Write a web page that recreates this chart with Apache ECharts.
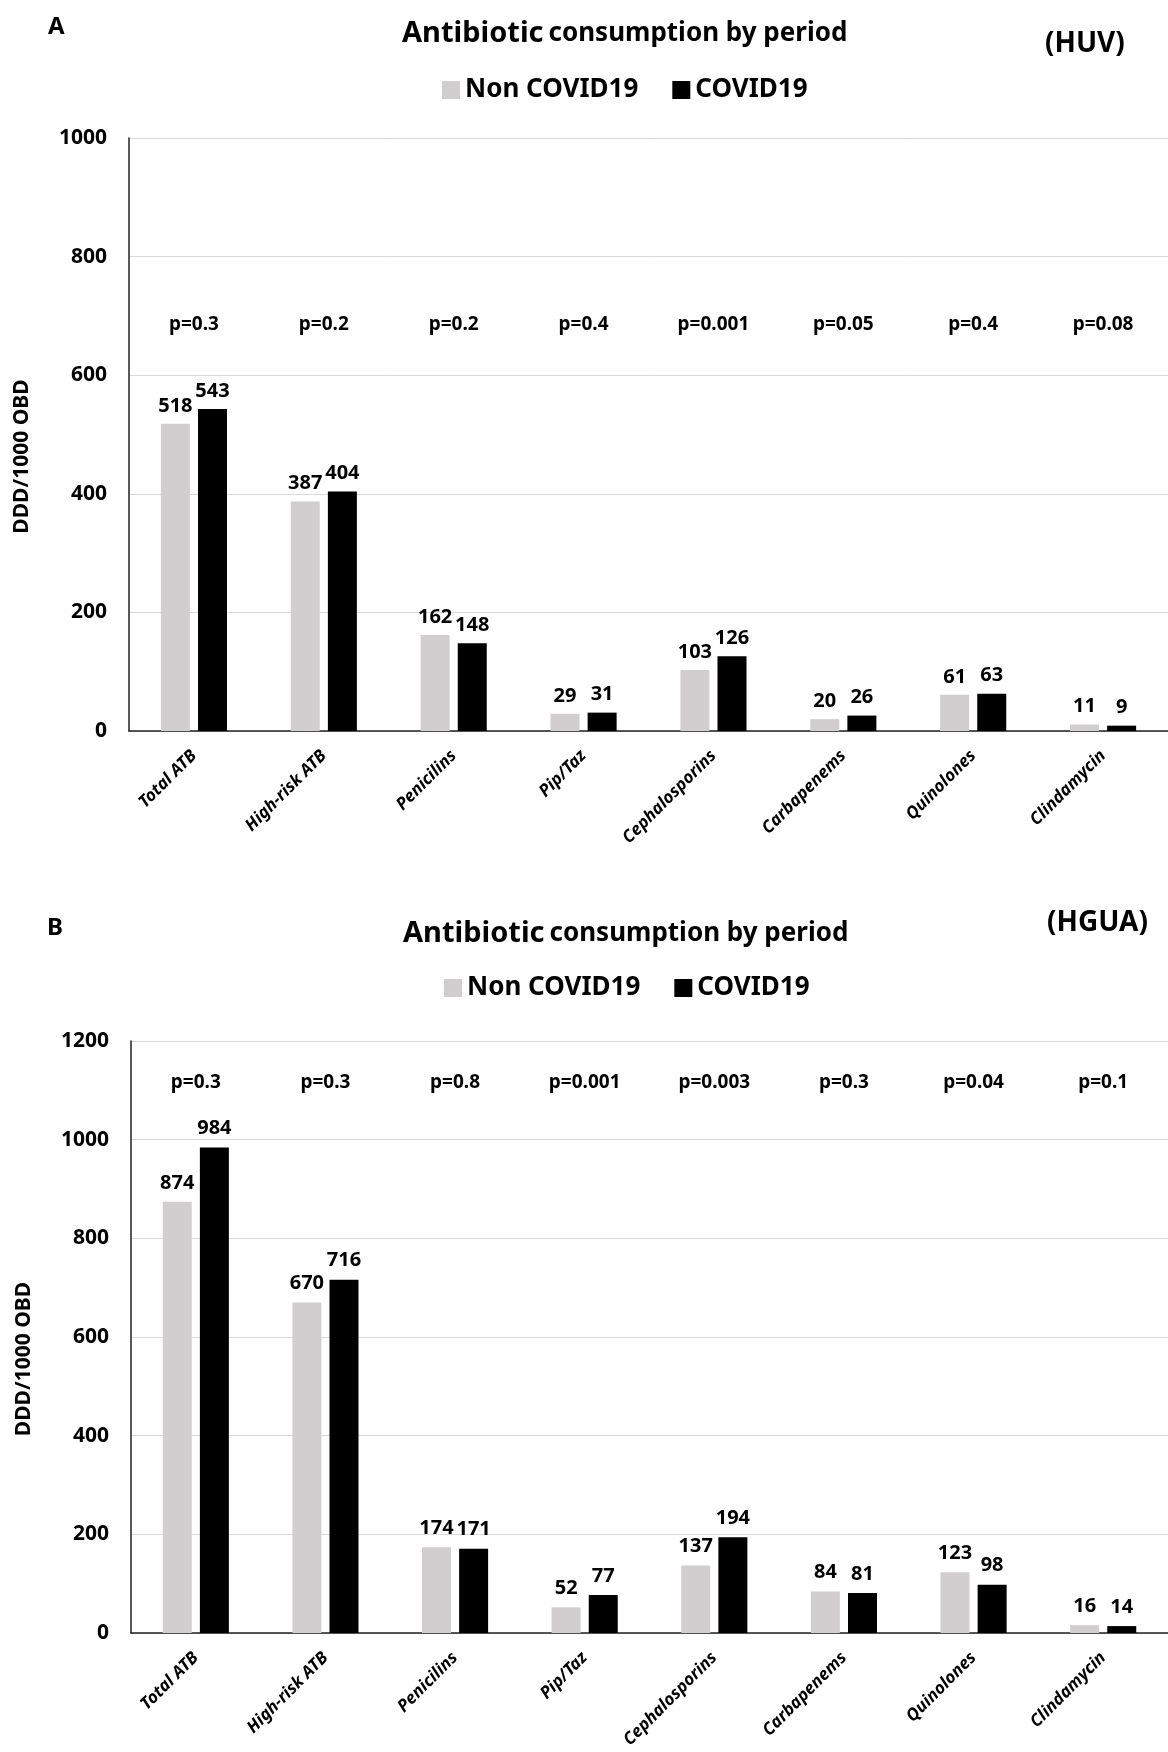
<!DOCTYPE html>
<html>
<head>
<meta charset="utf-8">
<script src="https://cdn.jsdelivr.net/npm/echarts@6/dist/echarts.min.js"></script>
<style>
html,body{margin:0;padding:0;background:#fff;}
#c{width:1168px;height:1752px;}
</style>
</head>
<body>
<div id="c"></div>
<script>
const categories = ['Total ATB','High-risk ATB','Penicilins','Pip/Taz','Cephalosporins','Carbapenems','Quinolones','Clindamycin'];
const seriesNames = ['Non COVID19','COVID19'];
const huvNonCovid = [518,387,162,29,103,20,61,11];
const huvCovid    = [543,404,148,31,126,26,63,9];
const huvP = ['p=0.3','p=0.2','p=0.2','p=0.4','p=0.001','p=0.05','p=0.4','p=0.08'];
const huguaNonCovid = [874,670,174,52,137,84,123,16];
const huguaCovid    = [984,716,171,77,194,81,98,14];
const huguaP = ['p=0.3','p=0.3','p=0.8','p=0.001','p=0.003','p=0.3','p=0.04','p=0.1'];
const yTicksA = {min:0,max:1000,interval:200};
const yTicksB = {min:0,max:1200,interval:200};

const FONT = '"Noto Sans", "DejaVu Sans", sans-serif';
const GRAY = '#d0cece';
const BLACK = '#000000';

const chart = echarts.init(document.getElementById('c'), null, {renderer:'canvas'});

function xAxis(gi){
  return {
    type:'category', gridIndex:gi, data:categories,
    axisTick:{show:false},
    axisLine:{lineStyle:{color:'#222',width:1.5}},
    axisLabel:{rotate:45, margin:22, color:'#000', fontFamily:FONT, fontSize:17, fontWeight:'bold', fontStyle:'italic', interval:0}
  };
}
function yAxis(gi, t){
  return {
    type:'value', gridIndex:gi, min:t.min, max:t.max, interval:t.interval,
    name:'DDD/1000 OBD', nameLocation:'middle', nameGap:96,
    nameTextStyle:{color:'#000', fontFamily:FONT, fontSize:21, fontWeight:'bold', padding:[0,44,0,0]},
    axisLine:{show:true, lineStyle:{color:'#222',width:1.5}},
    axisTick:{show:false},
    splitLine:{lineStyle:{color:'#d9d9d9',width:1}},
    axisLabel:{color:'#000', fontFamily:FONT, fontSize:21, fontWeight:'bold', margin:22,
      formatter:function(v){return String(v);}}
  };
}
function barSeries(name, data, gi, color, dist){
  return {
    name:name, type:'bar', xAxisIndex:gi, yAxisIndex:gi, data:data,
    barWidth:29, barGap:'28%',
    itemStyle:{color:color},
    label:{show:true, position:'top', distance:dist, color:'#000', fontFamily:FONT, fontSize:20, fontWeight:'bold'},
    emphasis:{disabled:true}
  };
}
function pSeries(labels, level, gi){
  return {
    type:'scatter', xAxisIndex:gi, yAxisIndex:gi, symbol:'rect', symbolSize:[1,1], silent:true,
    itemStyle:{color:'#ffffff', opacity:1},
    data: labels.map(function(){return level;}),
    label:{show:true, position:'inside', formatter:function(p){return labels[p.dataIndex];},
      color:'#000000', opacity:1, textBorderWidth:0, fontFamily:FONT, fontSize:19, fontWeight:'bold'},
    emphasis:{disabled:true}
  };
}
function titleRich(){
  return {
    a:{fontFamily:FONT, fontSize:29, fontWeight:'bold', color:'#000'},
    b:{fontFamily:FONT, fontSize:26, fontWeight:'bold', color:'#000'}
  };
}

const option = {
  animation:false,
  backgroundColor:'#fff',
  title:[
    {text:'A', left:43, top:10, textStyle:{fontFamily:FONT,fontSize:24,fontWeight:'bold',color:'#000'}},
    {text:'{a|Antibiotic} {b|consumption by period}', left:397, top:14, textStyle:{rich:titleRich()}},
    {text:'(HUV)', left:1040, top:25, textStyle:{fontFamily:FONT,fontSize:28,fontWeight:'bold',color:'#000'}},
    {text:'B', left:42, top:911, textStyle:{fontFamily:FONT,fontSize:24,fontWeight:'bold',color:'#000'}},
    {text:'{a|Antibiotic} {b|consumption by period}', left:398, top:914, textStyle:{rich:titleRich()}},
    {text:'(HGUA)', left:1042, top:904, textStyle:{fontFamily:FONT,fontSize:28,fontWeight:'bold',color:'#000'}}
  ],
  legend:[
    {data:seriesNames, left:437, top:72, itemWidth:18, itemHeight:18, itemGap:34, icon:'rect',
     textStyle:{fontFamily:FONT,fontSize:26,fontWeight:'bold',color:'#000'}},
    {data:seriesNames, left:439, top:970, itemWidth:18, itemHeight:18, itemGap:34, icon:'rect',
     textStyle:{fontFamily:FONT,fontSize:26,fontWeight:'bold',color:'#000'}}
  ],
  grid:[
    {left:129, top:138, width:1050, height:593},
    {left:131, top:1041, width:1050, height:592}
  ],
  xAxis:[xAxis(0), xAxis(1)],
  yAxis:[yAxis(0,yTicksA), yAxis(1,yTicksB)],
  series:[
    barSeries(seriesNames[0], huvNonCovid, 0, GRAY, 8),
    barSeries(seriesNames[1], huvCovid, 0, BLACK, 8),
    pSeries(huvP, 686, 0),
    barSeries(seriesNames[0], huguaNonCovid, 1, GRAY, 9),
    barSeries(seriesNames[1], huguaCovid, 1, BLACK, 9),
    pSeries(huguaP, 1115, 1)
  ]
};
chart.setOption(option);
</script>
</body>
</html>
